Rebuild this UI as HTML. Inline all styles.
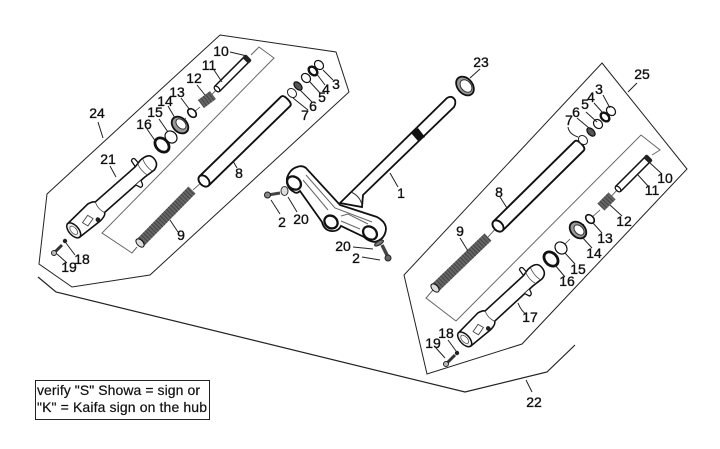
<!DOCTYPE html>
<html><head><meta charset="utf-8"><style>
html,body{margin:0;padding:0;background:#fff}
svg{display:block}
text{font-family:"Liberation Sans",sans-serif;font-size:14px;fill:#111;text-anchor:middle;stroke:#111;stroke-width:.35}
.t{fill:none;stroke:#666;stroke-width:1}
.o{fill:none;stroke:#222;stroke-width:1}
.l{fill:none;stroke:#222;stroke-width:1}
</style></head><body>
<svg width="720" height="449" viewBox="0 0 720 449" xmlns="http://www.w3.org/2000/svg">
<defs>
<g id="slider">
<path d="M0,-9 L30,-10.500 Q36,-9 37,-7 L92,-7 L100,-8.500 Q112,-9 112,-1 Q112,7 104,8 L92,7 L37,7 Q36,10 28,10.500 L0,9" fill="#fff" stroke="#111" stroke-width="1.600"/>
<ellipse cx="1" cy="0" rx="5" ry="9" fill="#eee" stroke="#111" stroke-width="1.500"/>
<ellipse cx="1" cy="0" rx="2.800" ry="5" fill="#fff" stroke="#555" stroke-width=".8"/>
<path d="M37,-7 Q34,0 37,7 M96,-8 Q93,0 96,8 M103,-8 Q100,0 102,7" fill="none" stroke="#444" stroke-width=".8"/>
<path d="M92,-7 L93,-14 Q96,-16 97,-13 L97,-8" fill="none" stroke="#111" stroke-width="1.300"/>
<path d="M80,7 L82,12 Q85,13 86,10 L87,7" fill="#fff" stroke="#111" stroke-width="1.300"/>
<circle cx="27" cy="8" r="2.400" fill="#222"/>
<path d="M13,0 L22,-2 L24,4 L15,6Z" fill="none" stroke="#444" stroke-width=".9"/>
</g>
<g id="tube">
<path d="M0,-6.500 L114,-6.500 Q117,-6.500 117,0 Q117,6.500 114,6.500 L0,6.500" fill="#fff" stroke="#111" stroke-width="1.900"/>
<ellipse cx="0" cy="0" rx="4.500" ry="6.500" fill="#fff" stroke="#111" stroke-width="1.900"/>
</g>
<g id="rod">
<path d="M0,-3.500 L42,-3.500 L42,3.500 L0,3.500" fill="#fff" stroke="#111" stroke-width="1.500"/>
<ellipse cx="0" cy="0" rx="2" ry="3.500" fill="#fff" stroke="#111" stroke-width="1.300"/>
<rect x="40" y="-4.500" width="5" height="9" rx="2" fill="#222"/>
</g>
</defs>
<rect width="720" height="449" fill="#fff"/>

<!-- group outlines -->
<path class="o" d="M220,35 L336,52 L349,92 L150,275 L72,287 L39,264 L47,194 Z"/>
<path class="t" d="M251,55 L259,47 L274,58 L102,233 L132,253 L137,247"/>
<path class="o" d="M602,63 L687,169 L522,344 L427,374 L404,275 Z"/>
<path class="t" d="M652,155 L660,150 L641,135 L456,321 L426,298 L433,290"/>
<path d="M38,277 L56,292 L465,392 L547,372 L575,345" fill="none" stroke="#222" stroke-width="1.200"/>

<!-- axis lines -->
<path d="M217,89 L207,100 M200,107 L193,113 M186,118 L180,124 M618,189 L607,201 M600,210 L590,219 M584,224 L578,230 M570,239 L561,248 M193,190 L203,181 M488,237 L498,226" stroke="#444" stroke-width=".8" fill="none"/>

<!-- left assembly -->
<use href="#slider" transform="translate(73,231) rotate(-41.400) scale(.97,1)"/>
<use href="#tube" transform="translate(204,181) rotate(-44.300)"/>
<use href="#rod" transform="translate(217,89) rotate(-45)"/>
<path d="M140,243 L192,190" stroke="#666" stroke-width="10" fill="none"/>
<path d="M140,243 L192,190" stroke="#444" stroke-width="10" stroke-dasharray="1 2" fill="none"/>
<ellipse cx="140" cy="243" rx="3" ry="5" transform="rotate(-44 140 243)" fill="#ddd" stroke="#111"/>
<path d="M201,104 L213,95" stroke="#666" stroke-width="10" fill="none"/>
<path d="M201,104 L213,95" stroke="#444" stroke-width="10" stroke-dasharray="1 2" fill="none"/>
<ellipse cx="192" cy="113" rx="3.500" ry="5" transform="rotate(-44 192 113)" fill="#fff" stroke="#111" stroke-width="1.600"/>
<ellipse cx="180" cy="125" rx="7" ry="9.500" transform="rotate(-44 180 125)" fill="#999" stroke="#111" stroke-width="1.800"/>
<ellipse cx="181" cy="124" rx="4" ry="6" transform="rotate(-44 181 124)" fill="#fff" stroke="#333"/>
<ellipse cx="171" cy="137" rx="5.500" ry="6.500" transform="rotate(-44 171 137)" fill="#fff" stroke="#111" stroke-width="1.200"/>
<ellipse cx="162" cy="145" rx="6" ry="8" transform="rotate(-44 162 145)" fill="#fff" stroke="#111" stroke-width="2.800"/>
<ellipse cx="319" cy="65" rx="4" ry="5" transform="rotate(-44 319 65)" fill="#fff" stroke="#111" stroke-width="1.200"/>
<ellipse cx="313" cy="71" rx="3.500" ry="5" transform="rotate(-44 313 71)" fill="#fff" stroke="#111" stroke-width="2.400"/>
<ellipse cx="306" cy="78" rx="4" ry="5" transform="rotate(-44 306 78)" fill="#fff" stroke="#111" stroke-width="1.200"/>
<ellipse cx="298" cy="86" rx="3" ry="5" transform="rotate(-44 298 86)" fill="#555" stroke="#111" stroke-width="1.200"/>
<ellipse cx="292" cy="93" rx="4" ry="5" transform="rotate(-44 292 93)" fill="#fff" stroke="#222" stroke-width="1"/>
<path d="M54,253 L62,245" stroke="#333" stroke-width="3" fill="none"/>
<circle cx="54" cy="253" r="2.500" fill="#bbb" stroke="#222"/>
<circle cx="65" cy="241" r="2.200" fill="#222"/>

<!-- stem and yoke -->
<path d="M340,203 L447,98 Q452,95 455,100 Q456,104 454,107 L363,195 L362,207 Z" fill="#fff" stroke="#111" stroke-width="1.800"/>
<path d="M411,133 L418,128 L425,137 L418,141 Z" fill="#111"/>
<path d="M351,192 Q360,196 362,205" fill="none" stroke="#333"/>
<path d="M287,178 Q290,169 297,167 Q302,165 306,168 L340,205 L377,217 Q386,222 386,229 Q385,240 374,242 Q368,241 364,237 L341,226 Q338,232 331,231 Q324,230 322,222 L300,191 Q297,194 294,192 Q286,188 287,178 Z" fill="#fff" stroke="#111" stroke-width="1.800"/>
<path d="M306,175 L335,208 L372,222 M303,180 L328,210 M341,216 L348,214 L368,224 M341,221 L360,229" fill="none" stroke="#666" stroke-width="1"/>
<ellipse cx="294" cy="183" rx="7.500" ry="6" transform="rotate(40 294 183)" fill="#fff" stroke="#111" stroke-width="2.300"/>
<ellipse cx="331" cy="222" rx="7" ry="6" transform="rotate(40 331 222)" fill="#fff" stroke="#111" stroke-width="2.300"/>
<ellipse cx="370" cy="233" rx="7.500" ry="6" transform="rotate(40 370 233)" fill="#fff" stroke="#111" stroke-width="2.300"/>
<path d="M268,195 L280,193" stroke="#444" stroke-width="3"/>
<circle cx="267.500" cy="195" r="3" fill="#888" stroke="#222"/>
<ellipse cx="284.500" cy="191" rx="3.500" ry="4.500" fill="#ddd" stroke="#333"/>
<path d="M382,245 L388,257" stroke="#444" stroke-width="3.500"/>
<circle cx="388" cy="258" r="3" fill="#666" stroke="#222"/>
<ellipse cx="379" cy="243" rx="5" ry="2" transform="rotate(-30 379 243)" fill="#777" stroke="#222"/>
<ellipse cx="465" cy="86" rx="7.500" ry="10.500" transform="rotate(-40 465 86)" fill="#999" stroke="#111" stroke-width="1.800"/>
<ellipse cx="466" cy="86" rx="5" ry="7" transform="rotate(-40 466 86)" fill="#fff" stroke="#333"/>

<!-- right assembly -->
<use href="#slider" transform="translate(464,340) rotate(-42.700) scale(.95,1)"/>
<use href="#tube" transform="translate(498,226) rotate(-44.600)"/>
<use href="#rod" transform="translate(618,189) rotate(-45)"/>
<path d="M435,288 L488,237" stroke="#666" stroke-width="10" fill="none"/>
<path d="M435,288 L488,237" stroke="#444" stroke-width="10" stroke-dasharray="1 2" fill="none"/>
<ellipse cx="435" cy="288" rx="3" ry="5" transform="rotate(-44 435 288)" fill="#ddd" stroke="#111"/>
<path d="M601,207 L612,196" stroke="#666" stroke-width="10" fill="none"/>
<path d="M601,207 L612,196" stroke="#444" stroke-width="10" stroke-dasharray="1 2" fill="none"/>
<ellipse cx="590" cy="219" rx="3.500" ry="5" transform="rotate(-44 590 219)" fill="#fff" stroke="#111" stroke-width="1.600"/>
<ellipse cx="578" cy="230" rx="7" ry="9.500" transform="rotate(-44 578 230)" fill="#999" stroke="#111" stroke-width="1.800"/>
<ellipse cx="579" cy="230" rx="4" ry="6" transform="rotate(-44 579 230)" fill="#fff" stroke="#333"/>
<ellipse cx="561" cy="248" rx="5.500" ry="6.500" transform="rotate(-44 561 248)" fill="#fff" stroke="#111" stroke-width="1.200"/>
<ellipse cx="551" cy="259" rx="6" ry="8" transform="rotate(-44 551 259)" fill="#fff" stroke="#111" stroke-width="2.800"/>
<ellipse cx="611" cy="111" rx="4" ry="5" transform="rotate(-44 611 111)" fill="#fff" stroke="#111" stroke-width="1.200"/>
<ellipse cx="605" cy="117" rx="3.500" ry="5" transform="rotate(-44 605 117)" fill="#fff" stroke="#111" stroke-width="2.400"/>
<ellipse cx="598" cy="124" rx="4" ry="5" transform="rotate(-44 598 124)" fill="#fff" stroke="#111" stroke-width="1.200"/>
<ellipse cx="591" cy="132" rx="3" ry="5" transform="rotate(-44 591 132)" fill="#555" stroke="#111" stroke-width="1.200"/>
<ellipse cx="583" cy="140" rx="4" ry="5" transform="rotate(-44 583 140)" fill="#fff" stroke="#222" stroke-width="1"/>
<path d="M447,363 L455,355" stroke="#333" stroke-width="3" fill="none"/>
<circle cx="446" cy="364" r="2.500" fill="#bbb" stroke="#222"/>
<circle cx="457" cy="353" r="2.200" fill="#222"/>

<!-- leaders -->
<path class="l" d="M230,52 L247,56 M214,70 L222,82 M197,85 L205,95 M181,98 L190,110 M168,106 L175,118 M159,119 L168,132 M147,129 L156,142 M110,166 L116,177 M98,122 L103,138 M233,161 L237,168 M170,220 L178,232 M323,70 L333,80 M316,73 L325,85 M310,82 L320,93 M300,90 L312,102 M293,98 L308,110 M57,254 L67,263 M66,243 L75,255 M271,200 L280,214 M288,197 L297,212 M390,173 L398,187 M470,78 L480,69 M353,247 L373,249 M362,257 L380,260 M628,92 L637,83 M603,95 L610,108 M594,103 L603,113 M586,112 L597,122 M577,118 L589,128 M568,127 Q569,134 578,137 M500,197 L507,208 M460,238 L468,251 M650,163 L662,174 M638,175 L648,186 M610,205 L622,216 M593,223 L602,233 M582,237 L592,248 M565,253 L575,264 M555,265 L565,277 M518,303 Q521,311 527,315 M448,340 L456,351 M436,348 L445,358 M526,380 L532,392"/>

<!-- labels -->
<g>
<text x="221" y="56">10</text><text x="209" y="70">11</text><text x="194" y="83">12</text><text x="177" y="97">13</text><text x="165" y="106">14</text><text x="155" y="117">15</text><text x="144" y="129">16</text><text x="108" y="164">21</text><text x="97" y="118">24</text><text x="239" y="178">8</text><text x="181" y="240">9</text><text x="69" y="272">19</text><text x="82" y="264">18</text>
<text x="336" y="89">3</text><text x="326" y="94">4</text><text x="322" y="102">5</text><text x="313" y="111">6</text><text x="305" y="120">7</text>
<text x="282" y="227">2</text><text x="301" y="224">20</text><text x="401" y="198">1</text><text x="481" y="67">23</text><text x="343" y="251">20</text><text x="356" y="263">2</text>
<text x="642" y="79">25</text><text x="599" y="94">3</text><text x="591" y="102">4</text><text x="585" y="109">5</text><text x="576" y="117">6</text><text x="569" y="125">7</text><text x="499" y="197">8</text><text x="460" y="236">9</text><text x="665" y="183">10</text><text x="652" y="195">11</text><text x="624" y="226">12</text><text x="605" y="243">13</text><text x="594" y="258">14</text><text x="578" y="274">15</text><text x="567" y="286">16</text><text x="530" y="322">17</text><text x="446" y="338">18</text><text x="433" y="348">19</text><text x="534" y="407">22</text>
</g>

<!-- note box -->
<rect x="35.500" y="380.500" width="174" height="39" fill="#fff" stroke="#222" stroke-width="1"/>
<text x="37" y="395" style="text-anchor:start;stroke-width:.2" textLength="163">verify "S" Showa = sign or</text>
<text x="37" y="412" style="text-anchor:start;stroke-width:.2" textLength="170">"K" = Kaifa sign on the hub</text>
</svg>
</body></html>
